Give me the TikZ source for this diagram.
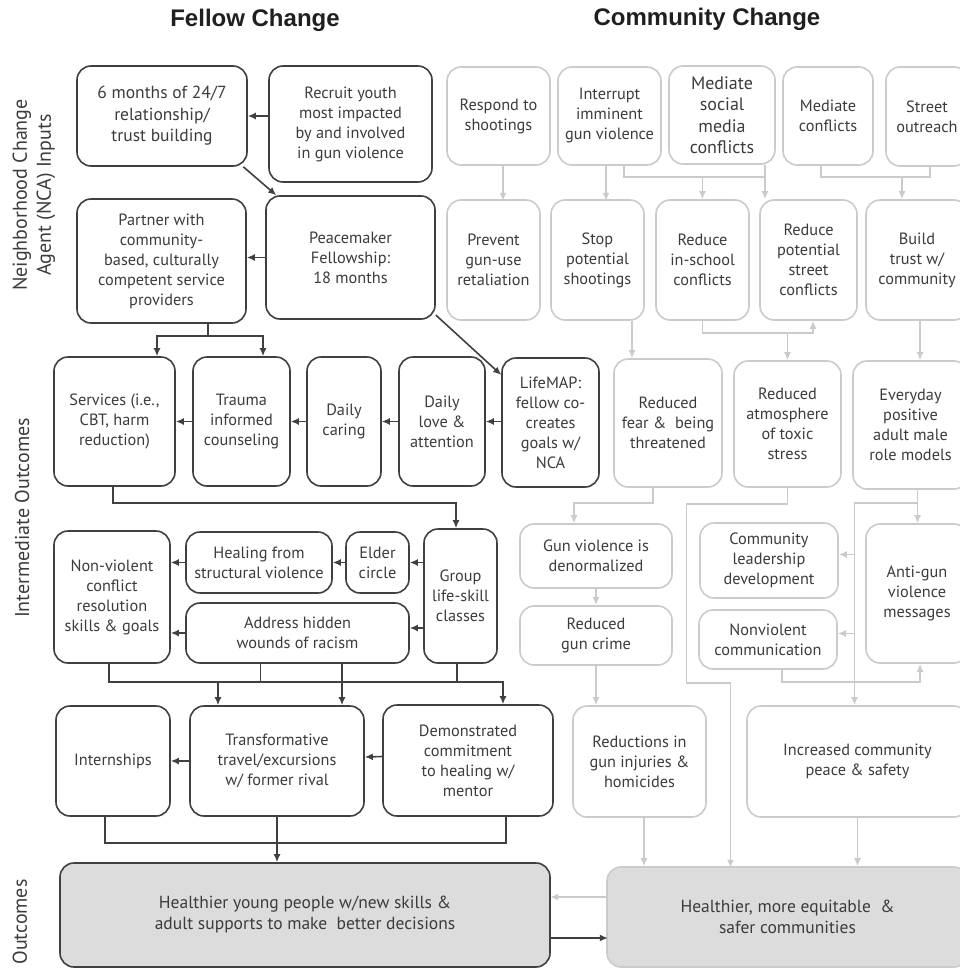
\documentclass[tikz,border=0pt]{standalone}
\usepackage{fontspec}
\setmainfont{PT Sans}
\newfontfamily\headfont{Liberation Sans}
\usetikzlibrary{arrows.meta,calc}
\definecolor{fdark}{HTML}{404040}
\definecolor{clight}{HTML}{CBCBCB}
\definecolor{ofill}{HTML}{DCDCDC}
\definecolor{txt}{HTML}{3C3C3C}

\begin{document}
\begin{tikzpicture}[x=1pt,y=-1pt,
	fbox/.style={draw=fdark,line width=1.6pt,rounded corners=14pt,align=center,text=txt,inner sep=0pt,font=\fontsize{16.3}{20}\selectfont},
	cbox/.style={fbox,draw=clight},
	dline/.style={draw=fdark,line width=1.6pt},
	lline/.style={draw=clight,line width=1.6pt},
	darr/.style={dline,-{Latex[length=8pt,width=7pt]}},
	larr/.style={lline,-{Latex[length=8pt,width=7pt]}},
	side/.style={rotate=90,align=center,text=txt,font=\fontsize{20}{24}\selectfont},
	head/.style={font=\headfont\bfseries\fontsize{24}{28}\selectfont,text=black!88}]
		\useasboundingbox[fill=white] (0,0) rectangle (960,969);
		\node[head] (ftitle) at (255,20) {Fellow Change};
		\node[head] (ctitle) at (707,19) {Community Change};
		\node[side] (nca) at (34,195) {Neighborhood Change\\Agent (NCA) Inputs};
		\node[side] (inter) at (22,518) {Intermediate Outcomes};
		\node[side] (outc) at (20,922) {Outcomes};
		% fellow change
		\node[fbox,minimum width=170,minimum height=100,font=\fontsize{17.5}{21.5}\selectfont] (sixmo) at (162,116) {6 months of 24/7\\relationship/\\trust building};
		\node[fbox,minimum width=163,minimum height=116] (recruit) at (350.5,124) {Recruit youth\\most impacted\\by and involved\\in gun violence};
		\node[fbox,minimum width=169,minimum height=124] (partner) at (161.5,261) {Partner with\\community-\\based, culturally\\competent service\\providers};
		\node[fbox,minimum width=169,minimum height=123] (peace) at (350.5,257.5) {Peacemaker\\Fellowship:\\18 months};
		\node[fbox,minimum width=121,minimum height=129] (services) at (114.5,421.5) {Services (i.e.,\\CBT, harm\\reduction)};
		\node[fbox,minimum width=97,minimum height=129] (trauma) at (241.5,421.5) {Trauma\\informed\\counseling};
		\node[fbox,minimum width=74,minimum height=129] (caring) at (344,421.5) {Daily\\caring};
		\node[fbox,minimum width=86,minimum height=129] (love) at (442,421.5) {Daily\\love \&\\attention};
		\node[fbox,minimum width=97,minimum height=129] (lifemap) at (550.5,422.5) {LifeMAP:\\fellow co-\\creates\\goals w/\\NCA};
		\node[fbox,minimum width=73,minimum height=134] (group) at (460.5,596) {Group\\life-skill\\classes};
		\node[fbox,minimum width=63,minimum height=61] (elder) at (377.5,562.5) {Elder\\circle};
		\node[fbox,minimum width=146,minimum height=61] (healing) at (259,562.5) {Healing from\\structural violence};
		\node[fbox,minimum width=223,minimum height=60] (address) at (297.5,633) {Address hidden\\wounds of racism};
		\node[fbox,minimum width=116,minimum height=132] (nonviol) at (112,597) {Non-violent\\conflict\\resolution\\skills \& goals};
		\node[fbox,minimum width=114,minimum height=110] (intern) at (113,761) {Internships};
		\node[fbox,minimum width=174,minimum height=110] (travel) at (277,761) {Transformative\\travel/excursions\\w/ former rival};
		\node[fbox,minimum width=170,minimum height=111] (commit) at (468,760.5) {Demonstrated\\commitment\\to healing w/\\mentor};
		\node[fbox,fill=ofill,minimum width=490,minimum height=104,font=\fontsize{17.5}{21}\selectfont] (youngout) at (305,915) {Healthier young people w/new skills \&\\adult supports to make\ \ better decisions};
		% community change
		\node[cbox,minimum width=103,minimum height=98] (respond) at (498.5,116) {Respond to\\shootings};
		\node[cbox,minimum width=103,minimum height=98] (interrupt) at (609.5,116) {Interrupt\\imminent\\gun violence};
		\node[cbox,minimum width=106,minimum height=98,font=\fontsize{18}{21.5}\selectfont] (mediasoc) at (722,115) {Mediate\\social\\media\\conflicts};
		\node[cbox,minimum width=90,minimum height=98] (medconf) at (828,116) {Mediate\\conflicts};
		\node[cbox,minimum width=82,minimum height=99] (street) at (927,116.5) {Street\\outreach};
		\node[cbox,minimum width=93,minimum height=120] (prevent) at (493.5,260) {Prevent\\gun-use\\retaliation};
		\node[cbox,minimum width=93,minimum height=120] (stop) at (597.5,260) {Stop\\potential\\shootings};
		\node[cbox,minimum width=93,minimum height=120] (inschool) at (702.5,260) {Reduce\\in-school\\conflicts};
		\node[cbox,minimum width=97,minimum height=120] (streetconf) at (808.5,260) {Reduce\\potential\\street\\conflicts};
		\node[cbox,minimum width=102,minimum height=120] (trust) at (917,260) {Build\\trust w/\\community};
		\node[cbox,minimum width=108,minimum height=128] (fear) at (668,423) {Reduced\\fear \&\ \ being\\threatened};
		\node[cbox,minimum width=107,minimum height=126] (atmos) at (787.5,424) {Reduced\\atmosphere\\of toxic\\stress};
		\node[cbox,minimum width=115,minimum height=128] (everyday) at (910.5,425) {Everyday\\positive\\adult male\\role models};
		\node[cbox,minimum width=152,minimum height=64] (denorm) at (596,556) {Gun violence is\\denormalized};
		\node[cbox,minimum width=138,minimum height=75] (leader) at (769,560.5) {Community\\leadership\\development};
		\node[cbox,minimum width=102,minimum height=139] (antigun) at (917,593.5) {Anti-gun\\violence\\messages};
		\node[cbox,minimum width=152,minimum height=59] (guncrime) at (596,635.5) {Reduced\\gun crime};
		\node[cbox,minimum width=138,minimum height=59] (nvcomm) at (768,639.5) {Nonviolent\\communication};
		\node[cbox,minimum width=133,minimum height=111] (reduct) at (639.5,761.5) {Reductions in\\gun injuries \&\\homicides};
		\node[cbox,minimum width=221,minimum height=111] (incr) at (857.5,761.5) {Increased community\\peace \& safety};
		\node[cbox,fill=ofill,minimum width=361,minimum height=100,font=\fontsize{17.5}{21}\selectfont] (commout) at (787.5,917) {Healthier, more equitable\ \ \&\\safer communities};
		% fellow connectors
		\draw[darr] (recruit.west |- sixmo.east) -- (sixmo.east);
		\draw[darr] (sixmo.-32) -- (peace.140);
		\draw[darr] (peace.west) -- (peace.west -| partner.east);
		\draw[darr] (peace.-34) -- (lifemap.136);
		\draw[dline] ([xshift=46.5pt]partner.south) -- ++(0,12) coordinate (pj);
		\draw[darr] (pj) -| ([xshift=42.5pt]services.north);
		\draw[darr] (pj) -| ([xshift=21.5pt]trauma.north);
		\draw[darr] (lifemap.west |- love.east) -- (love.east);
		\draw[darr] (love.west) -- (caring.east);
		\draw[darr] (caring.west) -- (trauma.east);
		\draw[darr] (trauma.west) -- (services.east);
		\draw[darr] ([xshift=-1.5pt]services.south) -- ++(0,16) -| ([xshift=-4.5pt]group.north);
		\draw[darr] (group.west |- elder.east) -- (elder.east);
		\draw[darr] (elder.west) -- (healing.east);
		\draw[darr] (healing.west) -- (healing.west -| nonviol.east);
		\draw[darr] ($(group.west |- address.east)+(0,-5)$) -- ($(address.east)+(0,-5)$);
		\draw[darr] (address.west) -- (address.west -| nonviol.east);
		\coordinate (fbus) at (0,682);
		\coordinate (f1) at ([xshift=-3pt]nonviol.south);
		\coordinate (f2) at ([xshift=-3.5pt]group.south);
		\coordinate (f3) at ([xshift=-37pt]address.south);
		\coordinate (f4) at ([xshift=-59pt]travel.north);
		\draw[dline] (f1) |- (f2 |- fbus) -- (f2);
		\draw[dline] (f3) -- (f3 |- fbus);
		\draw[darr] ([xshift=44.5pt]address.south) -- ([xshift=65pt]travel.north);
		\draw[darr] (f4 |- fbus) -- (f4);
		\draw[darr] (f2 |- fbus) -| ([xshift=35pt]commit.north);
		\draw[darr] (travel.west) -- (intern.east);
		\draw[darr] ([yshift=4pt]commit.west) -- ([yshift=4pt]travel.east);
		\coordinate (obus) at (0,843);
		\coordinate (o1) at ([xshift=-8pt]intern.south);
		\coordinate (o2) at ([xshift=38pt]commit.south);
		\draw[dline] (o1) |- (o2 |- obus) -- (o2);
		\draw[darr] (travel.south) -- (travel.south |- youngout.north);
		\draw[darr] ([yshift=-23pt]youngout.east) -- ++(57,0);
		% community connectors
		\draw[larr] ([yshift=20pt]commout.west) -- ++(-56,0);
		\draw[larr] ([xshift=4.5pt]respond.south) -- ++(0,35);
		\draw[larr] ([xshift=-3.5pt]interrupt.south) -- ++(0,35);
		\coordinate (cbus1) at (0,177);
		\coordinate (c1) at ([xshift=14.5pt]interrupt.south);
		\coordinate (c2) at ([xshift=43pt]mediasoc.south);
		\draw[lline] (c1) |- (c2 |- cbus1) -- (c2);
		\draw[larr] (inschool.north |- cbus1) -- (inschool.north);
		\draw[larr] (c2 |- cbus1) -- (c2 |- streetconf.north);
		\coordinate (c3) at ([xshift=-7pt]medconf.south);
		\coordinate (c4) at ([xshift=3pt]street.south);
		\draw[lline] (c3) |- (c4 |- cbus1) -- (c4);
		\coordinate (c5) at ([xshift=-15pt]trust.north);
		\draw[larr] (c5 |- cbus1) -- (c5);
		\coordinate (cbus2) at (0,333);
		\coordinate (c6) at ([xshift=4.5pt]streetconf.south);
		\draw[larr] (inschool.south) |- (c6 |- cbus2) -- (c6);
		\draw[larr] (atmos.north |- cbus2) -- (atmos.north);
		\coordinate (c7) at ([xshift=34.5pt]stop.south);
		\draw[larr] (c7) -- (c7 |- fear.north);
		\coordinate (c8) at ([xshift=3pt]trust.south);
		\draw[larr] (c8) -- (c8 |- everyday.north);
		\coordinate (cbus3) at (0,503);
		\coordinate (c9) at ([xshift=-15pt]fear.south);
		\coordinate (c10) at ([xshift=-22pt]denorm.north);
		\draw[larr] (c9) |- (c10 |- cbus3) -- (c10);
		\draw[larr] (denorm.south) -- (guncrime.north);
		\draw[larr] (guncrime.south) -- (guncrime.south |- reduct.north);
		\coordinate (c11) at ([xshift=4.5pt]reduct.south);
		\draw[larr] (c11) -- (c11 |- commout.north);
		\draw[larr] (atmos.south) -- ++(0,16) -- ++(-101,0) -- ++(0,179) -- ++(44,0) -- ++(0,185);
		\coordinate (c13) at ([xshift=7pt]everyday.south);
		\draw[larr] (c13) -- (c13 |- antigun.north);
		\coordinate (c14) at ([xshift=-3pt]incr.north);
		\draw[larr] (c13 |- cbus3) -| (c14);
		\draw[larr] ($(c14 |- leader.east)+(0,-6)$) -- ($(leader.east)+(0,-6)$);
		\draw[larr] ($(c14 |- nvcomm.east)+(0,-6)$) -- ($(nvcomm.east)+(0,-6)$);
		\coordinate (c15) at ([xshift=14pt]nvcomm.south);
		\coordinate (c16) at ([xshift=3pt]antigun.south);
		\draw[larr] (c15) -- ++(0,12) -| (c16);
		\draw[larr] (incr.south) -- (incr.south |- commout.north);
	\end{tikzpicture}
\end{document}
